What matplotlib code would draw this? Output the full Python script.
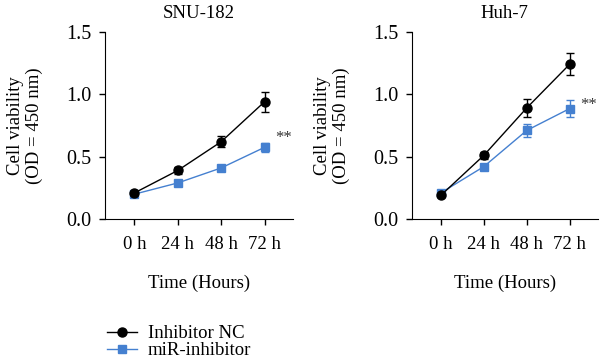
import matplotlib
matplotlib.use("Agg")
import matplotlib.pyplot as plt
from matplotlib.lines import Line2D

plt.rcParams['font.family'] = ['Liberation Serif', 'DejaVu Serif']

times = ["0 h", "24 h", "48 h", "72 h"]
titles = ["SNU-182", "Huh-7"]

nc_snu = [0.21, 0.39, 0.62, 0.94]
nc_snu_err = [0.015, 0.03, 0.045, 0.08]
mir_snu = [0.20, 0.29, 0.41, 0.575]
mir_snu_err = [0.01, 0.015, 0.02, 0.035]

nc_huh = [0.19, 0.51, 0.89, 1.24]
nc_huh_err = [0.015, 0.025, 0.07, 0.09]
mir_huh = [0.21, 0.42, 0.71, 0.885]
mir_huh_err = [0.015, 0.02, 0.05, 0.07]

star_y = [0.65, 0.91]

black = "#000000"
blue = "#4580d0"
fs = 13.5

fig = plt.figure(figsize=(6.0, 3.61), dpi=100)
ax1 = fig.add_axes([0.175, 0.393, 0.313, 0.519])
ax2 = fig.add_axes([0.686, 0.393, 0.310, 0.519])

data = [(ax1, nc_snu, nc_snu_err, mir_snu, mir_snu_err),
        (ax2, nc_huh, nc_huh_err, mir_huh, mir_huh_err)]
x = list(range(len(times)))
for i, (ax, nc, nce, mir, mire) in enumerate(data):
    ax.errorbar(x, mir, yerr=mire, color=blue, marker='s', markersize=6,
                linewidth=1.0, capsize=3, elinewidth=1.0, zorder=3)
    ax.errorbar(x, nc, yerr=nce, color=black, marker='o', markersize=6.5,
                linewidth=1.0, capsize=3, elinewidth=1.0, zorder=4)
    ax.set_xlim(-0.68, 3.65)
    ax.set_ylim(0, 1.5)
    ax.set_yticks([0.0, 0.5, 1.0, 1.5])
    ax.set_yticklabels(["0.0", "0.5", "1.0", "1.5"])
    ax.set_xticks(x)
    ax.set_xticklabels(times)
    ax.spines['top'].set_visible(False)
    ax.spines['right'].set_visible(False)
    ax.tick_params(length=4.5, width=1.0, direction='out')
    ax.tick_params(axis='x', pad=8, labelsize=13.5)
    ax.tick_params(axis='y', pad=5, labelsize=14.5)
    ax.set_title(titles[i], fontsize=fs, pad=10)
    ax.set_ylabel("Cell viability\n(OD = 450 nm)", fontsize=fs, labelpad=17, linespacing=1.1)
    ax.set_xlabel("Time (Hours)", fontsize=fs, labelpad=15)
    ax.text(3.25, star_y[i], "**", fontsize=12, ha='left', va='center', color='#333333')

handles = [Line2D([0], [0], color=black, marker='o', markersize=6.5, linewidth=1.0),
           Line2D([0], [0], color=blue, marker='s', markersize=6, linewidth=1.0)]
fig.legend(handles, ["Inhibitor NC", "miR-inhibitor"], loc='upper left',
           bbox_to_anchor=(0.165, 0.12), frameon=False, fontsize=fs,
           handlelength=1.6, handletextpad=0.6, labelspacing=0.0, borderaxespad=0)

fig.savefig("out.png", dpi=100)
